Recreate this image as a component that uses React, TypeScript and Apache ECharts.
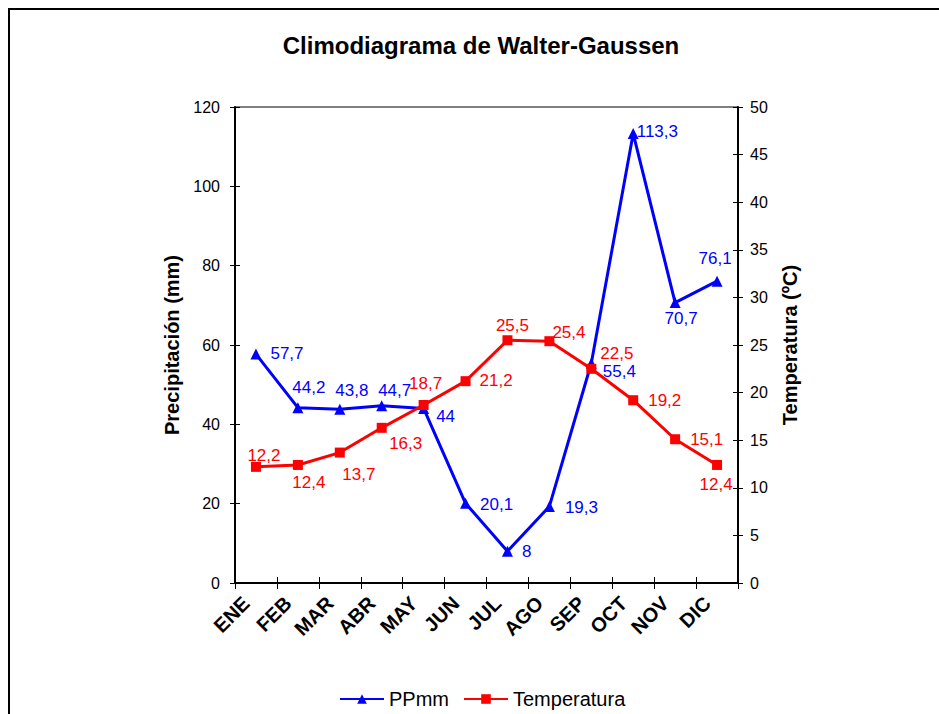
import React, { useEffect, useRef } from "react";
import * as echarts from "echarts";

// ---- Data ----
const months = ["ENE", "FEB", "MAR", "ABR", "MAY", "JUN", "JUL", "AGO", "SEP", "OCT", "NOV", "DIC"];
const precipitation = [57.7, 44.2, 43.8, 44.7, 44, 20.1, 8, 19.3, 55.4, 113.3, 70.7, 76.1];
const temperature = [12.2, 12.4, 13.7, 16.3, 18.7, 21.2, 25.5, 25.4, 22.5, 19.2, 15.1, 12.4];
const precipAxis = { min: 0, max: 120, interval: 20 };
const tempAxis = { min: 0, max: 50, interval: 5 };
const seriesNames = ["PPmm", "Temperatura"];
const titleText = "Climodiagrama de Walter-Gaussen";
const leftAxisName = "Precipitación (mm)";
const rightAxisName = "Temperatura (ºC)";

// ---- Label placement (layout only) ----
const ppLabelPos: [string, number, number][] = [
  ["right", 4, -1], ["top", 11, -1], ["top", 12, 0], ["top", 13, 4],
  ["right", 2, 8], ["right", 4, 1], ["right", 4, 0], ["right", 5, 1],
  ["right", 1, 8], ["right", -7, -2], ["bottom", 6, -3], ["top", -2, -4],
];
const tLabelPos: [string, number, number][] = [
  ["top", 8, 7], ["bottom", 11, -1], ["bottom", 19, 3], ["bottom", 24, -3],
  ["top", 2, -3], ["right", 4, -1], ["top", 5, 4], ["right", -7, -9],
  ["right", -1, -15], ["right", 5, 0], ["right", 5, 0], ["bottom", -1, 1],
];

const FONT = '"Liberation Sans", Arial, sans-serif';
const BLUE = "#0000FF";
const RED = "#FF0000";

const fmt = (p: any) => String(p.value).replace(".", ",");

export default function App() {
  const ref = useRef<HTMLDivElement>(null);
  useEffect(() => {
    if (!ref.current) return;
    const chart = echarts.init(ref.current, undefined, { renderer: "svg" });
    const axisLabelStyle = { color: "#000", fontFamily: FONT, fontSize: 16 };
    chart.setOption({
      animation: false,
      backgroundColor: "#fff",
      textStyle: { fontFamily: FONT },
      graphic: [
        {
          type: "rect",
          shape: { x: 9, y: 9, width: 1200, height: 1200 },
          style: { fill: "none", stroke: "#000", lineWidth: 2 },
          silent: true,
        },
        {
          type: "text",
          x: 481,
          y: 45,
          style: {
            text: titleText,
            fontFamily: FONT,
            fontSize: 24,
            fontWeight: "bold",
            fill: "#000",
            textAlign: "center",
            textVerticalAlign: "middle",
          },
        },
      ],
      grid: {
        left: 235,
        right: 201,
        top: 107,
        bottom: 131,
        show: true,
        borderColor: "#000",
        borderWidth: 1,
        backgroundColor: "transparent",
      },
      legend: {
        data: seriesNames,
        left: 339,
        top: 689,
        padding: 0,
        itemWidth: 44,
        itemHeight: 12,
        itemGap: 14,
        textStyle: { color: "#000", fontFamily: FONT, fontSize: 20 },
      },
      xAxis: [
        {
          type: "category",
          data: months,
          position: "bottom",
          boundaryGap: true,
          axisLine: { show: true, lineStyle: { color: "#000", width: 2 } },
          axisTick: { show: true, length: 6, lineStyle: { color: "#000", width: 1 } },
          axisLabel: {
            interval: 0,
            rotate: 45,
            margin: 7,
            padding: [0, 14, 0, 0],
            color: "#000",
            fontFamily: FONT,
            fontSize: 20,
            fontWeight: "bold",
          },
          splitLine: { show: false },
        },
        {
          type: "category",
          data: months,
          position: "bottom",
          boundaryGap: true,
          axisLine: { show: false },
          axisTick: { show: true, inside: true, length: 6, lineStyle: { color: "#000", width: 1 } },
          axisLabel: { show: false },
          splitLine: { show: false },
        },
      ],
      yAxis: [
        {
          type: "value",
          position: "left",
          ...precipAxis,
          name: leftAxisName,
          nameLocation: "middle",
          nameGap: 52,
          nameTextStyle: { color: "#000", fontFamily: FONT, fontSize: 20, fontWeight: "bold" },
          axisLine: { show: true, lineStyle: { color: "#000", width: 2 } },
          axisTick: { show: true, length: 5, lineStyle: { color: "#000", width: 1 } },
          axisLabel: { ...axisLabelStyle, margin: 15 },
          splitLine: { show: false },
        },
        {
          type: "value",
          position: "right",
          ...tempAxis,
          name: rightAxisName,
          nameLocation: "middle",
          nameGap: 42,
          nameTextStyle: { color: "#000", fontFamily: FONT, fontSize: 20, fontWeight: "bold" },
          axisLine: { show: true, lineStyle: { color: "#000", width: 2 } },
          axisTick: { show: true, length: 5, lineStyle: { color: "#000", width: 1 } },
          axisLabel: { ...axisLabelStyle, margin: 12 },
          splitLine: { show: false },
        },
        {
          type: "value",
          position: "left",
          ...precipAxis,
          axisLine: { show: false },
          axisTick: { show: true, inside: true, length: 5, lineStyle: { color: "#000", width: 1 } },
          axisLabel: { show: false },
          splitLine: { show: false },
        },
        {
          type: "value",
          position: "right",
          ...tempAxis,
          axisLine: { show: false },
          axisTick: { show: true, inside: true, length: 5, lineStyle: { color: "#000", width: 1 } },
          axisLabel: { show: false },
          splitLine: { show: false },
        },
      ],
      series: [
        {
          name: seriesNames[0],
          type: "line",
          xAxisIndex: 0,
          yAxisIndex: 0,
          symbol: "triangle",
          symbolSize: 11,
          lineStyle: { color: BLUE, width: 3 },
          itemStyle: { color: BLUE },
          label: { show: true, color: BLUE, fontFamily: FONT, fontSize: 17, formatter: fmt },
          data: precipitation.map((v, i) => ({
            value: v,
            label: { position: ppLabelPos[i][0], offset: [ppLabelPos[i][1], ppLabelPos[i][2]] },
          })),
        },
        {
          name: seriesNames[1],
          type: "line",
          xAxisIndex: 0,
          yAxisIndex: 1,
          symbol: "rect",
          symbolSize: 10,
          lineStyle: { color: RED, width: 3 },
          itemStyle: { color: RED },
          label: { show: true, color: RED, fontFamily: FONT, fontSize: 17, formatter: fmt },
          data: temperature.map((v, i) => ({
            value: v,
            label: { position: tLabelPos[i][0], offset: [tLabelPos[i][1], tLabelPos[i][2]] },
          })),
        },
      ],
    });
    return () => chart.dispose();
  }, []);
  return (
    <div
      ref={ref}
      style={{ position: "absolute", left: 0, top: 0, width: 939, height: 714 }}
    />
  );
}
